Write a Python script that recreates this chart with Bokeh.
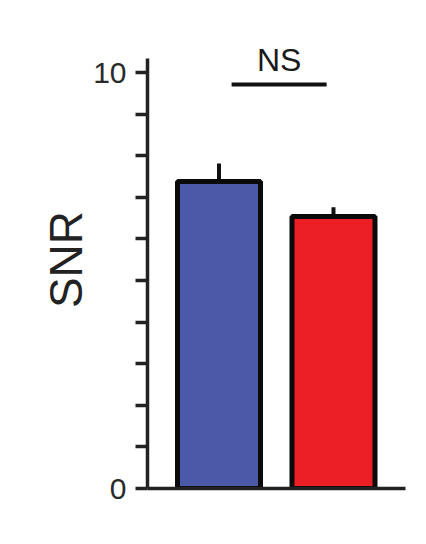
from bokeh.plotting import figure
from bokeh.models import Range1d, FixedTicker, ColumnDataSource
from bokeh.core.properties import value
from bokeh.embed import file_html
from bokeh.resources import INLINE

# data
groups = ["Group A", "Group B"]
snr_mean = [7.38, 6.54]
snr_sem = [0.43, 0.22]
bar_colors = ["#4a5aa8", "#ec1f26"]
y_ticks = [0, 1, 2, 3, 4, 5, 6, 7, 8, 9, 10]
y_tick_labels = {0: "0", 10: "10"}
sig_label = "NS"
sig_y = 9.71
sig_x = [1.11, 1.94]

xs = [float(i + 1) for i in range(len(groups))]

FONT = "Liberation Sans"

p = figure(width=410, height=528, output_backend="svg", toolbar_location=None,
           x_range=Range1d(0.3755, 2.629), y_range=Range1d(0, 11.01),
           min_border_left=147, min_border_right=5, min_border_top=30, min_border_bottom=40)
p.frame_width = 258
p.frame_height = 458
p.outline_line_color = None
p.xgrid.visible = False
p.ygrid.visible = False
p.background_fill_color = "white"
p.border_fill_color = "white"

src = ColumnDataSource(dict(x=xs, top=snr_mean, color=bar_colors,
                            err_top=[m + s for m, s in zip(snr_mean, snr_sem)]))

p.segment(x0="x", y0="top", x1="x", y1="err_top", source=src,
          line_color="#111111", line_width=4)
p.vbar(x="x", top="top", bottom=0, width=0.725, source=src, fill_color="color",
       line_color="#0a0a0a", line_width=5)

# significance annotation
p.segment(x0=[sig_x[0]], y0=[sig_y], x1=[sig_x[1]], y1=[sig_y], line_color="#111111", line_width=4)
p.text(x=[(sig_x[0] + sig_x[1]) / 2], y=[sig_y + 0.17], text=[sig_label], text_align="center",
       text_baseline="bottom", text_font=value(FONT), text_font_size="32px", text_color="#1a1a1a")

# axes
ax = p.yaxis[0]
ax.bounds = (0, 10.34)
ax.ticker = FixedTicker(ticks=y_ticks)
ax.major_label_overrides = {t: y_tick_labels.get(t, "") for t in y_ticks}
ax.major_tick_out = 12
ax.major_tick_in = 0
ax.minor_tick_out = 0
ax.minor_tick_in = 0
ax.major_tick_line_width = 3.5
ax.major_tick_line_color = "#222222"
ax.axis_line_width = 3.5
ax.axis_line_color = "#222222"
ax.major_label_text_font = FONT
ax.major_label_text_font_size = "30px"
ax.major_label_text_color = "#2a2a2a"
ax.major_label_standoff = 9
ax.axis_label = "SNR"
ax.axis_label_text_font = FONT
ax.axis_label_text_font_style = "normal"
ax.axis_label_text_font_size = "46px"
ax.axis_label_text_color = "#222222"
ax.axis_label_standoff = -2

xa = p.xaxis[0]
xa.ticker = FixedTicker(ticks=[])
xa.major_label_text_font_size = "0px"
xa.major_tick_out = 0
xa.major_tick_in = 0
xa.minor_tick_out = 0
xa.minor_tick_in = 0
xa.axis_line_width = 3.5
xa.axis_line_color = "#222222"

open("out.html", "w").write(file_html(p, INLINE))
